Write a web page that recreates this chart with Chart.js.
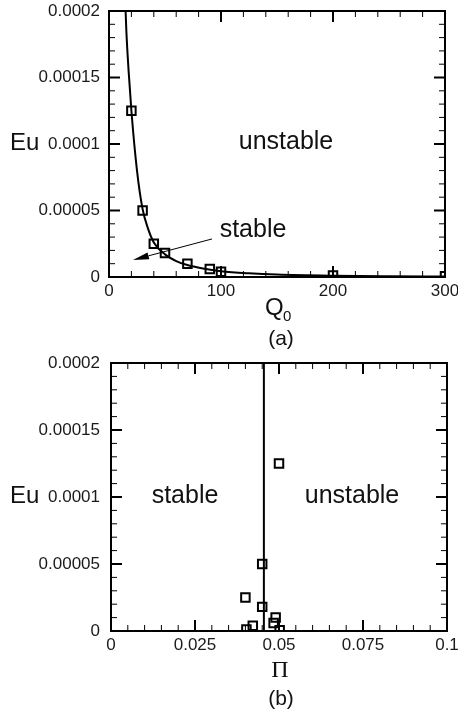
<!DOCTYPE html>
<html>
<head>
<meta charset="utf-8">
<script src="https://cdn.jsdelivr.net/npm/chart.js@4.4.1/dist/chart.umd.min.js"></script>
<style>
body { margin: 0; background: #fff; width: 458px; height: 719px; overflow: hidden; position: relative; }
#wrapA { position: absolute; left: 0; top: 0; }
#wrapB { position: absolute; left: 0; top: 325px; }
</style>
</head>
<body>
<div id="wrapA"><canvas id="chartA" width="458" height="360"></canvas></div>
<div id="wrapB"><canvas id="chartB" width="458" height="394"></canvas></div>
<script>
/*
 * Data
 */
const q0Markers = [20, 30, 40, 50, 70, 90, 100, 200, 300]
const euMarkers = [1.25e-4, 5.0e-5, 2.5e-5, 1.8e-5, 1.0e-5, 6.0e-6, 4.0e-6, 1.2e-6, 0.5e-6]
const piMarkers = [0.0500, 0.0450, 0.0400, 0.0450, 0.0490, 0.0484, 0.0422, 0.0403, 0.0502]

// fitted curve in (a)
const q0Curve = [14.6, 15.5, 17.5, 20, 25, 30, 35, 40, 50, 60, 70, 85, 100, 125, 150, 200, 250, 300]
const euCurve = [2.05e-4, 1.85e-4, 1.55e-4, 1.25e-4, 8.0e-5, 5.1e-5, 3.6e-5, 2.6e-5, 1.7e-5, 1.2e-5, 9.0e-6, 6.2e-6, 4.4e-6, 2.8e-6, 1.8e-6, 0.9e-6, 0.5e-6, 0.3e-6]

// critical line in (b)
const piBoundary = [0.0455, 0.0455]
const euBoundary = [0, 2e-4]

const euTickLabels = ['0', '0.00005', '0.0001', '0.00015', '0.0002']
const q0TickLabels = ['0', '100', '200', '300']
const piTickLabels = ['0', '0.025', '0.05', '0.075', '0.1']

const sans = '"Liberation Sans", Arial, Helvetica, sans-serif'
Chart.defaults.font.family = sans

function pairs(xs, ys) {
    return xs.map((x, i) => ({ x: x, y: ys[i] }))
}

/*
 * Inward ticks, frame, free text and arrow
 */
function drawInwardTicks(ctx, scale, minor, major, area, isX) {
    const n = Math.round((scale.max - scale.min) / minor)
    const every = Math.round(major / minor)
    for (let i = 0; i <= n; i++) {
        const v = scale.min + i * minor
        const p = scale.getPixelForValue(v)
        const isMajor = i % every === 0
        const len = isMajor ? 11 : 6
        ctx.lineWidth = isMajor ? 2 : 1
        ctx.beginPath()
        if (isX) {
            ctx.moveTo(p, area.bottom); ctx.lineTo(p, area.bottom - len)
            ctx.moveTo(p, area.top); ctx.lineTo(p, area.top + len)
        } else {
            ctx.moveTo(area.left, p); ctx.lineTo(area.left + len, p)
            ctx.moveTo(area.right, p); ctx.lineTo(area.right - len, p)
        }
        ctx.stroke()
    }
}

const decorPlugin = {
    id: 'decor',
    afterDraw(chart, args, opts) {
        const ctx = chart.ctx
        const a = chart.chartArea
        const xs = chart.scales.x
        const ys = chart.scales.y
        ctx.save()
        ctx.strokeStyle = '#000'
        ctx.fillStyle = '#000'
        drawInwardTicks(ctx, xs, opts.xMinor, opts.xMajor, a, true)
        drawInwardTicks(ctx, ys, 1e-5, 5e-5, a, false)
        ctx.lineWidth = 2
        ctx.strokeRect(a.left, a.top, a.width, a.height)

        opts.texts.forEach(t => {
            ctx.font = t.font
            ctx.textAlign = t.align || 'left'
            ctx.textBaseline = 'alphabetic'
            ctx.fillStyle = '#111'
            ctx.fillText(t.text, t.x, t.y)
        })

        if (opts.arrow) {
            const x1 = xs.getPixelForValue(opts.arrow.from[0])
            const y1 = ys.getPixelForValue(opts.arrow.from[1])
            const x2 = xs.getPixelForValue(opts.arrow.to[0])
            const y2 = ys.getPixelForValue(opts.arrow.to[1])
            const ang = Math.atan2(y2 - y1, x2 - x1)
            const hl = 16, hw = 3.5
            const bx = x2 - hl * Math.cos(ang)
            const by = y2 - hl * Math.sin(ang)
            ctx.lineWidth = 1
            ctx.beginPath(); ctx.moveTo(x1, y1); ctx.lineTo(bx, by); ctx.stroke()
            ctx.beginPath()
            ctx.moveTo(x2, y2)
            ctx.lineTo(bx + hw * Math.sin(ang), by - hw * Math.cos(ang))
            ctx.lineTo(bx - hw * Math.sin(ang), by + hw * Math.cos(ang))
            ctx.closePath()
            ctx.fillStyle = '#000'
            ctx.fill()
        }
        ctx.restore()
    }
}

function baseOptions(xMax, xStep, xLabels, yWidth, xHeight, pad, decor) {
    return {
        responsive: false,
        animation: false,
        devicePixelRatio: 1,
        layout: { padding: pad },
        plugins: { legend: { display: false }, tooltip: { enabled: false }, decor: decor },
        scales: {
            x: {
                type: 'linear', min: 0, max: xMax,
                grid: { display: false, drawTicks: false },
                border: { display: false },
                ticks: {
                    stepSize: xStep, padding: 4, maxRotation: 0, autoSkip: false,
                    color: '#1a1a1a', font: { size: 17 },
                    callback: v => xLabels[Math.round(v / xStep)]
                },
                afterFit: s => { s.height = xHeight; s.paddingLeft = 0; s.paddingRight = 0 }
            },
            y: {
                type: 'linear', min: 0, max: 2e-4,
                grid: { display: false, drawTicks: false },
                border: { display: false },
                ticks: {
                    stepSize: 5e-5, padding: yWidth - 100, autoSkip: false,
                    color: '#1a1a1a', font: { size: 17 },
                    callback: v => euTickLabels[Math.round(v / 5e-5)]
                },
                afterFit: s => { s.width = yWidth; s.paddingTop = 0; s.paddingBottom = 0 }
            }
        }
    }
}

/*
 * (a) Eu against Q0
 */
let chartAConfig = {
    type: 'scatter',
    data: {
        datasets: [
            {
                data: pairs(q0Curve, euCurve), showLine: true,
                cubicInterpolationMode: 'monotone',
                borderColor: '#000', borderWidth: 2, pointRadius: 0
            },
            {
                data: pairs(q0Markers, euMarkers), showLine: false,
                pointStyle: 'rect', pointRadius: 6, borderWidth: 2,
                borderColor: '#000', backgroundColor: 'rgba(0,0,0,0)'
            }
        ]
    },
    options: baseOptions(300, 100, q0TickLabels, 109, 83, { top: 11, right: 13, left: 0, bottom: 0 }, {
        xMinor: 20, xMajor: 100,
        texts: [
            { text: 'Eu', x: 10, y: 150, font: '24px ' + sans },
            { text: 'unstable', x: 286, y: 149, font: '25px ' + sans, align: 'center' },
            { text: 'stable', x: 253, y: 237, font: '25px ' + sans, align: 'center' },
            { text: 'Q', x: 265, y: 315, font: '24px ' + sans },
            { text: '0', x: 283, y: 321, font: '15px ' + sans },
            { text: '(a)', x: 281, y: 345, font: '21px ' + sans, align: 'center' }
        ],
        arrow: { from: [92, 2.86e-5], to: [21.4, 1.28e-5] }
    })
}

var chartA = new Chart(document.getElementById('chartA'), { ...chartAConfig, plugins: [decorPlugin] })

/*
 * (b) Eu against Pi
 */
let chartBConfig = {
    type: 'scatter',
    data: {
        datasets: [
            {
                data: pairs(piBoundary, euBoundary), showLine: true,
                borderColor: '#000', borderWidth: 2, pointRadius: 0
            },
            {
                data: pairs(piMarkers, euMarkers), showLine: false,
                pointStyle: 'rect', pointRadius: 6, borderWidth: 2,
                borderColor: '#000', backgroundColor: 'rgba(0,0,0,0)'
            }
        ]
    },
    options: baseOptions(0.1, 0.025, piTickLabels, 111, 88, { top: 38, right: 11, left: 0, bottom: 0 }, {
        xMinor: 0.005, xMajor: 0.025,
        texts: [
            { text: 'Eu', x: 10, y: 178, font: '24px ' + sans },
            { text: 'stable', x: 185, y: 178, font: '25px ' + sans, align: 'center' },
            { text: 'unstable', x: 352, y: 178, font: '25px ' + sans, align: 'center' },
            { text: '\u03A0', x: 280, y: 352, font: '24px "Liberation Serif", "Times New Roman", serif', align: 'center' },
            { text: '(b)', x: 281, y: 380, font: '21px ' + sans, align: 'center' }
        ]
    })
}

var chartB = new Chart(document.getElementById('chartB'), { ...chartBConfig, plugins: [decorPlugin] })
</script>
</body>
</html>
